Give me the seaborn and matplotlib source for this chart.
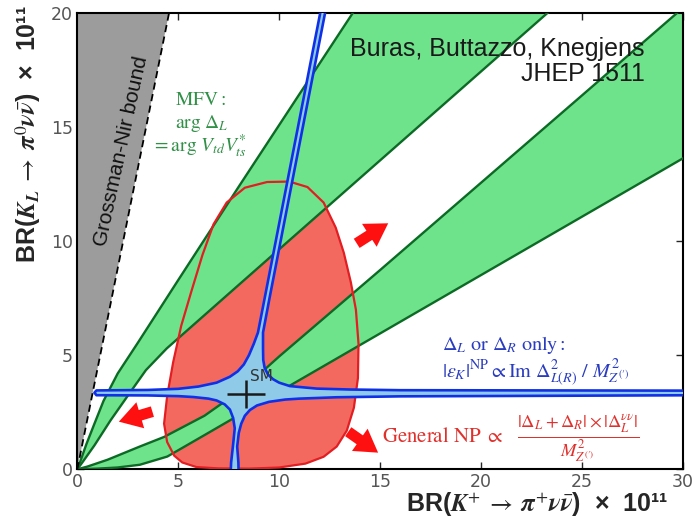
import matplotlib
matplotlib.use("Agg")
import matplotlib.pyplot as plt
import seaborn as sns

# ---------------- data ----------------
x_ticks = [0, 5, 10, 15, 20, 25, 30]
y_ticks = [0, 5, 10, 15, 20]

# Grossman-Nir bound
gn_x = [0.0, 4.77]
gn_y = [0.0, 21.0]

# MFV band 1 (steep band)
mfv1_hi_x = [0, 0.17, 0.45, 0.85, 1.3, 2.0, 3.0, 5.0, 8.0, 11.0, 14.6]
mfv1_hi_y = [0, 0.4, 1.1, 2.0, 3.0, 4.2, 5.55, 8.3, 12.4, 16.45, 21.3]
mfv1_lo_x = [0, 0.25, 0.85, 1.65, 2.6, 3.4, 4.43, 8, 12, 16, 20, 25]
mfv1_lo_y = [0, 0.3, 1.05, 2.15, 3.35, 4.35, 5.3, 8.09, 11.21, 14.33, 17.45, 21.35]

# MFV band 2 (flat band)
mfv2_hi_x = [0, 0.5, 1.5, 3.1, 4.3, 6.3, 8.3, 10, 15, 20, 25, 30, 31]
mfv2_hi_y = [0, 0.12, 0.42, 1.0, 1.42, 2.35, 3.6, 4.95, 8.74, 12.57, 16.4, 20.24, 21.0]
mfv2_lo_x = [0, 1.0, 2.0, 3.1, 4.46, 6.3, 10, 15, 20, 25, 30, 31.5]
mfv2_lo_y = [0, 0.03, 0.08, 0.2, 0.56, 1.5, 3.4, 5.96, 8.52, 11.08, 13.64, 14.4]

# General NP region
np_x = [10.5, 11.4, 12.2, 12.8, 13.2, 13.55, 13.8, 13.93, 13.9, 13.7, 13.35, 12.85,
        12.2, 11.3, 10.0, 8.5, 7.0, 5.9, 5.2, 4.8, 4.45, 4.3, 4.45, 4.75, 5.15, 5.65,
        6.2, 6.75, 7.4, 8.3, 9.4]
np_y = [12.62, 12.38, 11.7, 10.6, 9.5, 8.2, 7.0, 5.5, 4.0, 2.7, 1.7, 1.0,
        0.55, 0.25, 0.08, 0.03, 0.04, 0.1, 0.3, 0.6, 1.2, 2.0, 3.2, 4.7, 6.3, 7.8,
        9.4, 10.75, 11.7, 12.35, 12.6]

# Delta_L or Delta_R only (epsilon_K constrained) region
lr_x = [12.25, 10.40, 9.28, 8.95, 8.74, 8.5, 8.25, 7.95, 7.56, 6.9, 6.0, 5.0, 3.5, 0.95,
        0.85, 0.95, 3.5, 5.0, 5.75, 6.5, 6.9, 7.3, 7.56, 7.72, 7.8, 7.72, 7.62, 7.58,
        8.0, 7.98, 7.92, 8.0, 8.12, 8.3, 8.55, 8.9, 9.5, 10.3, 11.0, 12.85, 16, 31,
        31, 16, 13.5, 11.86, 10.53, 10.0, 9.7, 9.45, 9.28, 9.21, 9.2, 9.2, 9.52,
        10.64, 12.49]
lr_y = [21.0, 12.6, 7.5, 6.0, 5.5, 5.0, 4.6, 4.3, 4.06, 3.8, 3.63, 3.53, 3.48, 3.46,
        3.36, 3.25, 3.24, 3.21, 3.17, 3.1, 3.02, 2.85, 2.62, 2.25, 1.8, 1.1, 0.3, -0.5,
        -0.5, 0.3, 1.0, 1.6, 2.0, 2.35, 2.6, 2.8, 2.96, 3.06, 3.1, 3.16, 3.2, 3.25,
        3.45, 3.47, 3.5, 3.54, 3.65, 3.8, 3.95, 4.15, 4.45, 4.8, 5.3, 6.0, 7.5,
        12.6, 21.0]

# SM point
sm_x = [8.35]
sm_y = [3.3]
sm_xerr = [0.95]
sm_yerr = [0.6]

# arrows (tail -> head)
arrow_tail = [(13.84, 9.91), (3.72, 2.53), (13.42, 1.65)]
arrow_head = [(15.4, 10.79), (2.06, 2.09), (14.9, 0.73)]

# ---------------- style ----------------
sns.set_theme(style="ticks")
plt.rcParams["font.family"] = ["DejaVu Sans"]
plt.rcParams["mathtext.fontset"] = "stix"

GREEN_FILL = "#6fe28c"
GREEN_EDGE = "#0c6a25"
RED_FILL = "#f4695f"
RED_EDGE = "#e31e22"
BLUE_EDGE = "#1030e8"
BLUE_FILL = "#8fcbe8"

fig = plt.figure(figsize=(6.98, 5.21), dpi=100)
ax = fig.add_axes([0.1107, 0.0992, 0.8678, 0.8753])

# NP region fill
ax.fill(np_x, np_y, color=RED_FILL, lw=0, zorder=1)

# MFV bands
for hx, hy, lx, ly in [(mfv1_hi_x, mfv1_hi_y, mfv1_lo_x, mfv1_lo_y),
                       (mfv2_hi_x, mfv2_hi_y, mfv2_lo_x, mfv2_lo_y)]:
    ax.fill(hx + lx[::-1], hy + ly[::-1], color=GREEN_FILL, lw=0, zorder=2)
    for cx, cy in [(hx, hy), (lx, ly)]:
        sns.lineplot(x=cx, y=cy, sort=False, estimator=None, color=GREEN_EDGE,
                     linewidth=1.7, ax=ax, zorder=3)

# Grossman-Nir
ax.fill(gn_x + [0.0], gn_y + [gn_y[-1]], color="#9c9c9c", lw=0, zorder=2.5)
sns.lineplot(x=gn_x, y=gn_y, sort=False, estimator=None, color="black",
             linewidth=1.3, ax=ax, zorder=3.5, linestyle=(0, (4, 2.5)))

# NP outline
sns.lineplot(x=np_x + [np_x[0]], y=np_y + [np_y[0]], sort=False, estimator=None,
             color=RED_EDGE, linewidth=1.6, ax=ax, zorder=4)

# LR region
ax.fill(lr_x, lr_y, color=BLUE_FILL, lw=0, zorder=5)
sns.lineplot(x=lr_x + [lr_x[0]], y=lr_y + [lr_y[0]], sort=False, estimator=None,
             color=BLUE_EDGE, linewidth=1.9, ax=ax, zorder=6)

# SM
ax.errorbar(sm_x, sm_y, xerr=sm_xerr, yerr=sm_yerr, fmt="none", ecolor="#1a1a1a",
            elinewidth=1.8, capsize=0, zorder=7)
ax.text(sm_x[0] + 0.2, sm_y[0] + 0.42, "SM", fontsize=11, color="#333333",
        ha="left", va="bottom", zorder=8)

# arrows
for t, h in zip(arrow_tail, arrow_head):
    ax.annotate("", xy=h, xytext=t,
                arrowprops=dict(arrowstyle="simple,head_length=0.7,head_width=0.85,tail_width=0.34",
                                color="#ff1010", lw=0, shrinkA=0, shrinkB=0,
                                mutation_scale=23),
                zorder=8)

# texts
ax.text(2.19, 13.94, "Grossman-Nir bound", rotation=77.7, ha="center", va="center",
        fontsize=15, family="Liberation Sans", color="#111111", zorder=8,
        rotation_mode="anchor")
ax.text(28.1, 18.95, "Buras, Buttazzo, Knegjens\nJHEP 1511", ha="right", va="top",
        multialignment="right", fontsize=18, family="Liberation Sans",
        color="#1a1a1a", zorder=8, linespacing=1.05)

MFV_C = "#2f9046"
ax.text(4.84, 16.2, r"$\mathrm{MFV:}$", ha="left", va="center", fontsize=14, color=MFV_C, zorder=8)
ax.text(4.84, 15.18, r"$\mathrm{arg}\ \Delta_L$", ha="left", va="center", fontsize=14, color=MFV_C, zorder=8)
ax.text(3.7, 14.15, r"$=\mathrm{arg}\ V_{td}V_{ts}^{*}$", ha="left", va="center", fontsize=14, color=MFV_C, zorder=8)

BL_C = "#2a3cc0"
ax.text(18.05, 5.45, r"$\Delta_L\ \mathrm{or}\ \Delta_R\ \mathrm{only:}$", ha="left", va="center",
        fontsize=14.5, color=BL_C, zorder=8)
ax.text(18.05, 4.27, r"$|\epsilon_K|^{\mathrm{NP}}\propto\mathrm{Im}\ \Delta^2_{L(R)}\ /\ M^2_{Z^{(\prime)}}$",
        ha="left", va="center", fontsize=14.5, color=BL_C, zorder=8)

RD_C = "#e0302c"
ax.text(15.08, 1.2, r"$\mathrm{General\ NP}\ \propto$", ha="left", va="baseline",
        fontsize=15, color=RD_C, zorder=8)
ax.text(21.8, 1.2, r"$\frac{|\Delta_L+\Delta_R|\times|\Delta_L^{\nu\nu}|}{M^2_{Z^{(\prime)}}}$",
        ha="left", va="baseline", fontsize=19, color=RD_C, zorder=8)

# axes
ax.set_xlim(0, 30)
ax.set_ylim(0, 20)
ax.set_xticks(x_ticks)
ax.set_yticks(y_ticks)
ax.tick_params(direction="in", length=5, width=1, top=True, right=True,
               labelsize=12.5, labelcolor="#555555", pad=3)
for s in ax.spines.values():
    s.set_linewidth(1.5)
    s.set_color("black")

ax.set_xlabel(r"BR($\mathbfit{K}^{+}\;\to\;\mathbfit{\pi}^{+}\mathbfit{\nu}\bar{\mathbfit{\nu}}$)  ×  10¹¹",
              fontsize=18, fontweight="bold", family="Liberation Sans", loc="right")
ax.xaxis.set_label_coords(0.975, -0.046)
ax.set_ylabel(r"BR($\mathbfit{K}_{\mathbfit{L}}\;\to\;\mathbfit{\pi}^{0}\mathbfit{\nu}\bar{\mathbfit{\nu}}$)  ×  10¹¹",
              fontsize=18, fontweight="bold", family="Liberation Sans", loc="top")
ax.yaxis.set_label_coords(-0.057, 1.018)

fig.savefig("out.png", dpi=100)
